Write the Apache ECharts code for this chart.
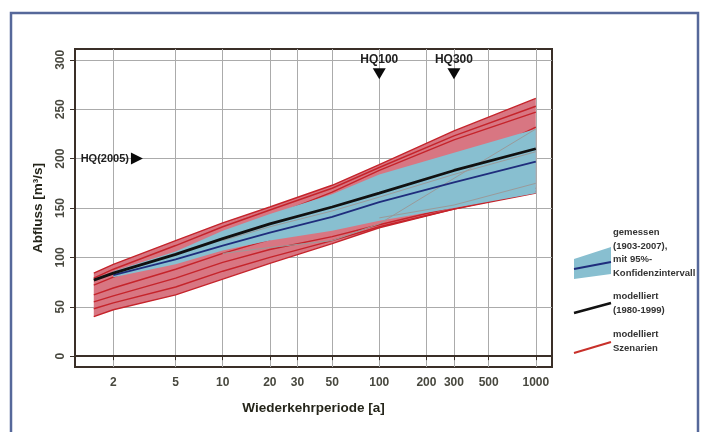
<!DOCTYPE html>
<html><head><meta charset="utf-8">
<script src="https://cdn.jsdelivr.net/npm/echarts@6/dist/echarts.min.js"></script>
<style>html,body{margin:0;padding:0;background:#fff}#c{width:703px;height:432px}</style>
</head><body><div id="c"></div>
<script>
// ---- data ----
const periods = [1.5, 2, 5, 10, 20, 50, 100, 300, 1000];
const modelled = [77, 84, 103, 119, 134, 151, 165, 188, 210];
const measuredPeriods = [2, 5, 10, 20, 50, 100, 300, 1000];
const measured = [82, 98, 112, 125, 141, 156, 176, 197];
const ciLower = [80, 93, 107, 117, 127, 137, 150, 165];
const ciUpper = [86, 106, 127, 144, 164, 184, 206, 230];
const scenario1 = [84, 93, 117, 135, 151, 173, 194, 228, 261];
const scenario2 = [79, 88, 112, 131, 148, 170, 191, 223, 253];
const scenario3 = [72, 80, 103, 122, 141, 166, 188, 219, 247];
const scenario4 = [62, 69, 88, 104, 118, 138, 158, 192, 232];
const scenario5 = [55, 61, 79, 95, 108, 121, 133, 151, 170];
const scenario6 = [48, 54, 70, 86, 100, 117, 131, 149, 167];
const scenario7 = [40, 47, 62, 78, 94, 114, 130, 149, 165];
const scenarios = [scenario1, scenario2, scenario3, scenario4, scenario5, scenario6, scenario7];
const grey1 = [null, null, null, 104, 110, 117, 134, 180, 230];
const grey2 = [null, null, null, 117, 131, 147, 161, 184, 207];
const grey3 = [null, null, null, null, null, null, 140, 153, 175];
const greyLines = [grey1, grey2, grey3];
const xTicks = [2, 5, 10, 20, 30, 50, 100, 200, 300, 500, 1000];
const yTicks = [0, 50, 100, 150, 200, 250, 300];
const hqLabels = ['HQ(2005)', 'HQ100', 'HQ300'];
const hqT = [2.83, 100, 300];
const hqQ = [200, 286, 286];

// ---- helpers ----
const FONT = "'Liberation Sans', Arial, sans-serif";
function pts(xs, ys) {
  const out = [];
  xs.forEach((x, i) => { if (ys[i] != null) out.push([x, ys[i]]); });
  return out;
}
function band(name, xs, lo, hi, color, z) {
  return {
    type: 'custom', name, z, silent: true, clip: true,
    data: xs.map((x, i) => [x, lo[i], hi[i]]),
    encode: { x: 0, y: [1, 2] },
    renderItem(params, api) {
      if (params.dataIndex !== 0) return;
      const top = xs.map((x, i) => api.coord([x, hi[i]]));
      const bot = xs.map((x, i) => api.coord([x, lo[i]])).reverse();
      return { type: 'polygon', shape: { points: top.concat(bot) }, style: { fill: color } };
    }
  };
}
const envLo = periods.map((_, i) => Math.min(...scenarios.map(s => s[i])));
const envHi = periods.map((_, i) => Math.max(...scenarios.map(s => s[i])));

const series = [];
series.push(band('Szenarien-Band', periods, envLo, envHi, '#d87682', 1));
scenarios.forEach((s, k) => series.push({
  type: 'line', name: 'Szenario ' + (k + 1), z: 2, symbol: 'none', silent: true,
  data: pts(periods, s), lineStyle: { color: '#c5242b', width: 1.4 }
}));
series.push(band('Konfidenzintervall', measuredPeriods, ciLower, ciUpper, '#88bfd0', 3));
greyLines.forEach((g, k) => series.push({
  type: 'line', name: 'grau ' + (k + 1), z: 4, symbol: 'none', silent: true,
  data: pts(periods, g), lineStyle: { color: '#9a9a9a', width: 1 }
}));
series.push({
  type: 'line', name: 'gemessen', z: 5, symbol: 'none', silent: true,
  data: pts(measuredPeriods, measured), lineStyle: { color: '#1f2d7c', width: 1.8 }
});
series.push({
  type: 'line', name: 'modelliert', z: 6, symbol: 'none', silent: true,
  data: pts(periods, modelled), lineStyle: { color: '#111111', width: 2.8 }
});
series.push({
  type: 'scatter', name: 'HQ', z: 7, silent: true,
  data: hqLabels.map((lab, i) => {
    const right = i === 0;
    return {
      value: [hqT[i], hqQ[i]],
      symbol: 'triangle',
      symbolSize: right ? [12, 12] : [13, 11],
      symbolRotate: right ? -90 : 180,
      itemStyle: { color: '#0a0a0a', opacity: 1 },
      label: {
        show: true, formatter: lab, position: right ? 'left' : 'top', distance: right ? 2 : 3,
        fontFamily: FONT, fontWeight: 'bold', fontSize: right ? 11 : 12, color: '#1e1e1e'
      }
    };
  })
});

const axisColor = '#3a2f28';
const labelStyle = { fontFamily: FONT, fontWeight: 'bold', fontSize: 12, color: '#48483f' };
const nameStyle = { fontFamily: FONT, fontWeight: 'bold', fontSize: 13.5, color: '#25251a' };

const chart = echarts.init(document.getElementById('c'), null, { renderer: 'canvas' });
chart.setOption({
  animation: false,
  backgroundColor: '#ffffff',
  grid: { left: 75, right: 151, top: 49, bottom: 65, show: true, borderColor: axisColor, borderWidth: 2, backgroundColor: 'transparent' },
  xAxis: {
    type: 'log', logBase: 10, min: 1.138, max: 1269,
    name: 'Wiederkehrperiode [a]', nameLocation: 'middle', nameGap: 34, nameTextStyle: nameStyle,
    axisLine: { show: true, lineStyle: { color: axisColor, width: 2 } },
    axisTick: { show: true, customValues: xTicks, length: 4, lineStyle: { color: axisColor, width: 1 } },
    axisLabel: Object.assign({ customValues: xTicks, margin: 10, formatter: v => String(Math.round(v)) }, labelStyle),
    splitLine: { show: true, lineStyle: { color: '#ababab', width: 1 } },
    minorTick: { show: false }, minorSplitLine: { show: false }
  },
  yAxis: {
    type: 'value', min: -11, max: 311,
    name: 'Abfluss [m³/s]', nameLocation: 'middle', nameGap: 30, nameRotate: 90, nameTextStyle: nameStyle,
    axisLine: { show: true, lineStyle: { color: axisColor, width: 2 } },
    axisTick: { show: true, customValues: yTicks, length: 5, lineStyle: { color: axisColor, width: 1 } },
    axisLabel: Object.assign({ customValues: yTicks, rotate: 90, margin: 8 }, labelStyle),
    splitLine: { show: true, lineStyle: { color: '#ababab', width: 1 } }
  },
  series,
  graphic: [
    { type: 'rect', silent: true, shape: { x: 11, y: 13, width: 687, height: 440 }, style: { fill: 'none', stroke: '#56689a', lineWidth: 2.5 }, z: 100 },
    { type: 'polygon', silent: true, shape: { points: [[574, 259], [611, 247], [611, 274], [574, 279]] }, style: { fill: '#88bfd0' } },
    { type: 'polyline', silent: true, shape: { points: [[574, 269], [611, 262]] }, style: { stroke: '#1f2d7c', lineWidth: 2, fill: 'none' } },
    { type: 'polyline', silent: true, shape: { points: [[574, 313], [611, 303]] }, style: { stroke: '#111', lineWidth: 2.6, fill: 'none' } },
    { type: 'polyline', silent: true, shape: { points: [[574, 353], [611, 342]] }, style: { stroke: '#c8302a', lineWidth: 2, fill: 'none' } },
    { type: 'text', silent: true, x: 613, y: 226, style: { text: 'gemessen\n(1903-2007),\nmit 95%-\nKonfidenzintervall', fontFamily: FONT, fontWeight: 'bold', fontSize: 9.5, lineHeight: 13.5, fill: '#333', verticalAlign: 'top' } },
    { type: 'text', silent: true, x: 613, y: 290, style: { text: 'modelliert\n(1980-1999)', fontFamily: FONT, fontWeight: 'bold', fontSize: 9.5, lineHeight: 13.5, fill: '#333', verticalAlign: 'top' } },
    { type: 'text', silent: true, x: 613, y: 328, style: { text: 'modelliert\nSzenarien', fontFamily: FONT, fontWeight: 'bold', fontSize: 9.5, lineHeight: 13.5, fill: '#333', verticalAlign: 'top' } }
  ]
});
</script>
</body></html>
